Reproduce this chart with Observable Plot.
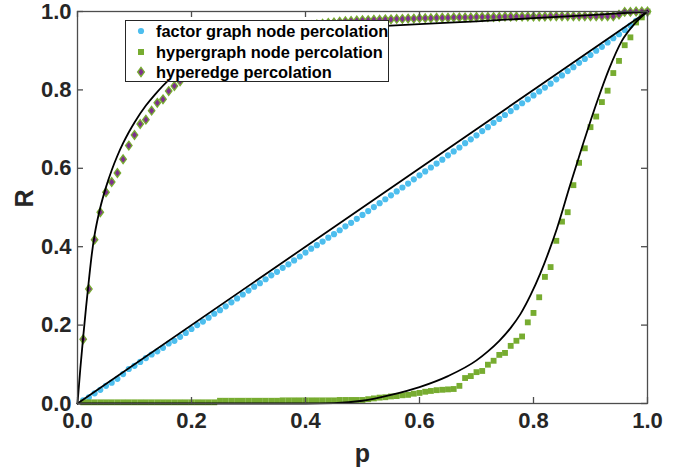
<!DOCTYPE html>
<html><head><meta charset="utf-8">
<script src="https://cdn.jsdelivr.net/npm/d3@7"></script>
<script src="https://cdn.jsdelivr.net/npm/@observablehq/plot@0.6"></script>
<style>
body{margin:0;background:#fff;}
#wrap{position:relative;width:690px;height:474px;font-family:"Liberation Sans",Arial,Helvetica,sans-serif;}
#legend{position:absolute;left:125px;top:20px;width:264px;height:62px;border:1px solid #262626;background:#fff;box-sizing:border-box;}
.row{position:absolute;left:0;height:20px;line-height:20px;font-size:16.4px;font-weight:bold;color:#000;white-space:nowrap;}
.row svg{position:absolute;left:9px;top:4px;}
.row span{position:absolute;left:30px;top:0;}
</style></head>
<body><div id="wrap"></div>
<script>
// ---- data ----
const pValues = [0.01,0.02,0.03,0.04,0.05,0.06,0.07,0.08,0.09,0.10,
0.11,0.12,0.13,0.14,0.15,0.16,0.17,0.18,0.19,0.20,
0.21,0.22,0.23,0.24,0.25,0.26,0.27,0.28,0.29,0.30,
0.31,0.32,0.33,0.34,0.35,0.36,0.37,0.38,0.39,0.40,
0.41,0.42,0.43,0.44,0.45,0.46,0.47,0.48,0.49,0.50,
0.51,0.52,0.53,0.54,0.55,0.56,0.57,0.58,0.59,0.60,
0.61,0.62,0.63,0.64,0.65,0.66,0.67,0.68,0.69,0.70,
0.71,0.72,0.73,0.74,0.75,0.76,0.77,0.78,0.79,0.80,
0.81,0.82,0.83,0.84,0.85,0.86,0.87,0.88,0.89,0.90,
0.91,0.92,0.93,0.94,0.95,0.96,0.97,0.98,0.99,1.00];

const factorGraphR = [0.008,0.016,0.026,0.035,0.045,0.053,0.063,0.075,0.088,0.096,
0.106,0.116,0.125,0.133,0.142,0.153,0.160,0.170,0.180,0.190,
0.200,0.209,0.219,0.229,0.238,0.248,0.258,0.268,0.278,0.288,
0.298,0.307,0.317,0.327,0.336,0.346,0.355,0.365,0.375,0.385,
0.395,0.404,0.413,0.423,0.432,0.442,0.452,0.461,0.471,0.481,
0.491,0.501,0.511,0.521,0.531,0.541,0.551,0.561,0.572,0.582,
0.592,0.602,0.612,0.622,0.633,0.643,0.653,0.664,0.674,0.684,
0.695,0.705,0.716,0.726,0.736,0.746,0.756,0.766,0.776,0.786,
0.796,0.806,0.816,0.827,0.837,0.848,0.858,0.869,0.879,0.889,
0.900,0.910,0.921,0.932,0.942,0.953,0.964,0.976,0.988,1.000];

const hypergraphNodeR = [0.003,0.003,0.003,0.003,0.003,0.003,0.003,0.003,0.003,0.003,
0.003,0.003,0.003,0.003,0.003,0.003,0.003,0.003,0.003,0.003,
0.003,0.003,0.003,0.003,0.007,0.007,0.007,0.007,0.007,0.007,
0.007,0.007,0.007,0.007,0.007,0.008,0.008,0.008,0.008,0.008,
0.008,0.008,0.008,0.008,0.008,0.009,0.009,0.009,0.009,0.009,
0.011,0.013,0.015,0.016,0.018,0.019,0.021,0.022,0.025,0.027,
0.030,0.032,0.034,0.035,0.036,0.037,0.045,0.065,0.070,0.080,
0.083,0.099,0.109,0.124,0.129,0.147,0.160,0.171,0.207,0.231,
0.271,0.323,0.348,0.415,0.464,0.488,0.557,0.614,0.651,0.705,
0.732,0.769,0.798,0.843,0.874,0.914,0.934,0.972,0.985,1.000];

const hyperedgeR = [0.164,0.292,0.418,0.488,0.539,0.565,0.588,0.623,0.658,0.685,
0.713,0.724,0.747,0.767,0.776,0.797,0.810,0.822,0.835,0.848,
0.858,0.868,0.878,0.886,0.894,0.901,0.908,0.914,0.920,0.926,
0.931,0.936,0.940,0.944,0.948,0.952,0.955,0.958,0.961,0.963,
0.965,0.967,0.969,0.971,0.972,0.974,0.975,0.976,0.977,0.978,
0.978,0.979,0.979,0.980,0.980,0.981,0.981,0.982,0.982,0.983,
0.983,0.983,0.984,0.984,0.984,0.985,0.985,0.985,0.985,0.986,
0.986,0.986,0.986,0.986,0.987,0.987,0.987,0.987,0.987,0.987,
0.987,0.987,0.988,0.988,0.988,0.988,0.988,0.988,0.988,0.988,
0.988,0.988,0.988,0.988,0.992,0.999,0.999,1.000,1.000,1.000];

// theory curves
const theoryFactorP = [0, 1];
const theoryFactorR = [0, 1];
const theoryEdgeP = [0,0.005,0.01,0.015,0.02,0.025,0.03,0.035,0.04,0.05,0.06,0.07,0.08,0.09,0.10,0.12,0.137,0.16,0.18,0.20,0.25,0.30,0.35,0.40,0.45,0.50,0.55,0.60,0.70,0.80,0.90,1.00];
const theoryEdgeR = [0,0.09,0.17,0.245,0.315,0.38,0.43,0.468,0.50,0.552,0.595,0.632,0.664,0.692,0.717,0.76,0.79,0.825,0.848,0.866,0.899,0.921,0.937,0.948,0.955,0.960,0.964,0.968,0.975,0.983,0.991,1.00];
const theoryNodeP = [0,0.40,0.45,0.50,0.55,0.60,0.65,0.70,0.72,0.74,0.76,0.777,0.795,0.812,0.827,0.841,0.864,0.888,0.911,0.933,0.955,0.978,1.00];
const theoryNodeR = [0,0,0.001,0.007,0.022,0.042,0.07,0.11,0.133,0.16,0.193,0.228,0.277,0.332,0.388,0.446,0.556,0.667,0.768,0.855,0.925,0.97,1.00];

const tickValues = [0, 0.2, 0.4, 0.6, 0.8, 1.0];
const seriesNames = ["factor graph node percolation", "hypergraph node percolation", "hyperedge percolation"];
const xLabel = "p", yLabel = "R";

// ---- build ----
const blue = "#4DBEEE", green = "#77AC30", purple = "#7E2F8E";
const toRows = (P, R) => P.map((p, i) => ({p, R: R[i]}));
const factorData = toRows(pValues, factorGraphR);
const nodeData = toRows(pValues, hypergraphNodeR);
const edgeData = toRows(pValues, hyperedgeR);
const fmt = d3.format(".1f");
const diamond = {draw(ctx, size) { const h = Math.sqrt(size / 1.5), w = h * 0.75;
  ctx.moveTo(0, -h); ctx.lineTo(w, 0); ctx.lineTo(0, h); ctx.lineTo(-w, 0); ctx.closePath(); }};

const W = 690, H = 474, mL = 77, mR = 43, mT = 11, mB = 71, tickLen = 6;
const innerW = W - mL - mR, innerH = H - mT - mB;
const axisColor = "#4d4d4d";

const chart = Plot.plot({
  width: W, height: H,
  marginLeft: mL, marginRight: mR, marginTop: mT, marginBottom: mB,
  x: {domain: [0, 1], axis: null}, y: {domain: [0, 1], axis: null},
  style: {fontFamily: '"Liberation Sans", Arial, Helvetica, sans-serif', fontSize: "22px", fontWeight: "bold", color: "#262626", background: "white", overflow: "visible"},
  marks: [
    Plot.dot(factorData, {x: "p", y: "R", r: 3.1, fill: blue, stroke: "none"}),
    Plot.dot(nodeData, {x: "p", y: "R", r: 3.3, symbol: "square", fill: green, stroke: "none"}),
    Plot.dot(edgeData, {x: "p", y: "R", r: 3, symbol: diamond, fill: purple, stroke: green, strokeWidth: 1.3}),
    Plot.line(toRows(theoryFactorP, theoryFactorR), {x: "p", y: "R", stroke: "black", strokeWidth: 1.8}),
    Plot.line(toRows(theoryEdgeP, theoryEdgeR), {x: "p", y: "R", stroke: "black", strokeWidth: 1.8, curve: "monotone-x"}),
    Plot.line(toRows(theoryNodeP, theoryNodeR), {x: "p", y: "R", stroke: "black", strokeWidth: 1.8, curve: "monotone-x"}),
    Plot.frame({stroke: axisColor, strokeWidth: 1.3}),
    // inward ticks on all four sides
    Plot.tickX(tickValues, {x: d => d, insetTop: innerH - tickLen, stroke: axisColor, strokeWidth: 1.3}),
    Plot.tickX(tickValues, {x: d => d, insetBottom: innerH - tickLen, stroke: axisColor, strokeWidth: 1.3}),
    Plot.tickY(tickValues, {y: d => d, insetRight: innerW - tickLen, stroke: axisColor, strokeWidth: 1.3}),
    Plot.tickY(tickValues, {y: d => d, insetLeft: innerW - tickLen, stroke: axisColor, strokeWidth: 1.3}),
    Plot.axisX(tickValues, {anchor: "bottom", tickSize: 0, tickPadding: 9, tickFormat: fmt, label: null, fill: "#262626"}),
    Plot.axisY(tickValues, {anchor: "left", tickSize: 0, tickPadding: 6, tickFormat: fmt, label: null, fill: "#262626"}),
    Plot.text([xLabel], {frameAnchor: "bottom", text: d => d, dy: 58, lineAnchor: "bottom", fontSize: 25, fontWeight: "bold", fill: "#262626"}),
    Plot.text([yLabel], {frameAnchor: "left", text: d => d, rotate: -90, dx: -45, lineAnchor: "bottom", fontSize: 25, fontWeight: "bold", fill: "#262626"})
  ]
});
const wrap = document.getElementById("wrap");
wrap.appendChild(chart);

// legend (overlay inside the plot area, like the original)
const legend = document.createElement("div");
legend.id = "legend";
const markerSvgs = [
  `<svg width="12" height="12"><circle cx="6" cy="6" r="3.1" fill="${blue}"/></svg>`,
  `<svg width="12" height="12"><rect x="3" y="3" width="6" height="6" fill="${green}"/></svg>`,
  `<svg width="12" height="12"><path d="M6,1.3L9.4,6L6,10.7L2.6,6Z" fill="${purple}" stroke="${green}" stroke-width="1.3"/></svg>`
];
const rowTops = [0, 20.5, 41];
seriesNames.forEach((name, i) => {
  const row = document.createElement("div");
  row.className = "row";
  row.style.top = rowTops[i] + "px";
  row.innerHTML = markerSvgs[i] + `<span>${name}</span>`;
  legend.appendChild(row);
});
wrap.appendChild(legend);
</script>
</body></html>
